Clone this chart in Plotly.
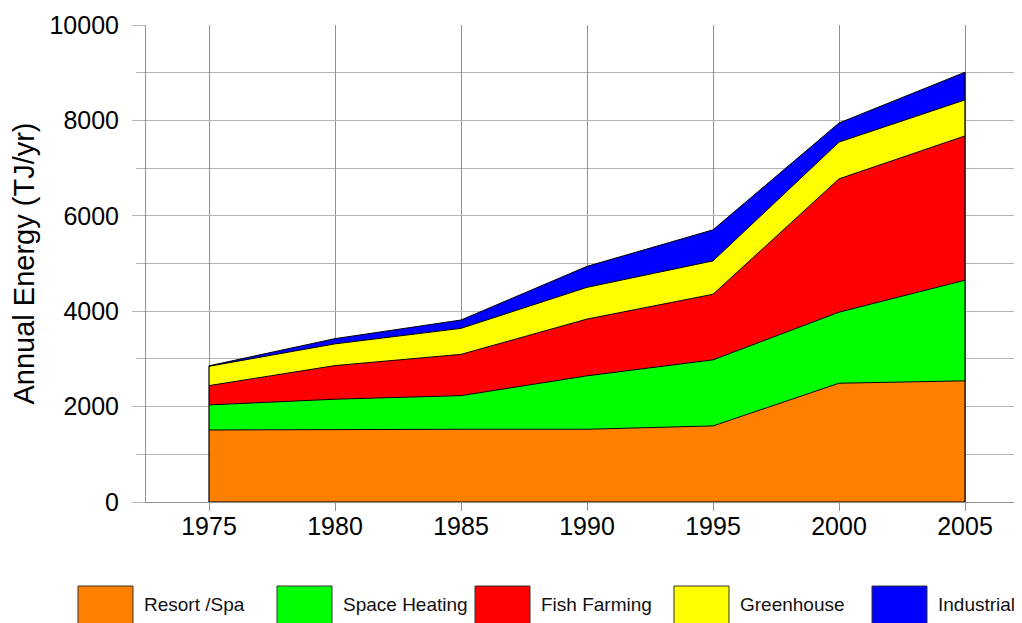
import plotly.graph_objects as go

years = [1975, 1980, 1985, 1990, 1995, 2000, 2005]
resort_spa = [1510, 1525, 1525, 1525, 1595, 2490, 2540]
space_heating = [525, 630, 705, 1120, 1385, 1490, 2110]
fish_farming = [405, 705, 865, 1190, 1375, 2795, 3025]
greenhouse = [405, 455, 545, 665, 700, 770, 755]
industrial = [10, 110, 175, 440, 650, 400, 580]

series_names = ["Resort /Spa", "Space Heating", "Fish Farming", "Greenhouse", "Industrial"]
series_values = [resort_spa, space_heating, fish_farming, greenhouse, industrial]
colors = ["#FF8000", "#00FF00", "#FF0000", "#FFFF00", "#0000FF"]

FONT = "Arial, 'Liberation Sans', sans-serif"

fig = go.Figure()
for name, vals, col in zip(series_names, series_values, colors):
    fig.add_trace(go.Scatter(
        x=years, y=vals, name=name, stackgroup="one", mode="lines",
        line=dict(color="black", width=1), fillcolor=col, showlegend=False,
        hoverinfo="x+y+name"))

totals = [sum(v) for v in zip(*series_values)]
# outline of the stacked block: left edge, bottom, right edge
fig.add_trace(go.Scatter(
    x=[years[0], years[0], years[-1], years[-1]],
    y=[totals[0], 0, 0, totals[-1]],
    mode="lines", line=dict(color="black", width=1.2),
    showlegend=False, hoverinfo="skip"))

# page body has an 8px margin; the figure is offset by it
OFF = 8
W, H = 1022 - OFF, 623 - OFF
L, R, T, B = 146 - OFF, 0, 25 - OFF, 121
pw = W - L - R
ph = H - T - B

def px_x(px):
    return (px - OFF - L) / pw

def px_y(py):
    return (H - B - (py - OFF)) / ph

shapes = []
annotations = []
box_left = [78, 277, 475, 674, 872]
for i, (name, col) in enumerate(zip(series_names, colors)):
    x0 = box_left[i]
    shapes.append(dict(type="rect", xref="paper", yref="paper",
                       x0=px_x(x0), x1=px_x(x0 + 55), y0=px_y(586), y1=px_y(640),
                       fillcolor=col, line=dict(color="#333333", width=1)))
    annotations.append(dict(xref="paper", yref="paper", x=px_x(x0 + 64), y=px_y(605),
                            text=name, showarrow=False, xanchor="left", yanchor="middle",
                            font=dict(family=FONT, size=19, color="#111111")))

fig.update_layout(
    width=W, height=H,
    margin=dict(l=L, r=R, t=T, b=B),
    paper_bgcolor="white", plot_bgcolor="white",
    font=dict(family=FONT, color="black"),
    shapes=shapes, annotations=annotations,
    xaxis=dict(
        range=[1972.5, 1972.5 + (1022 - 146) / 25.2],
        tickmode="linear", tick0=1975, dtick=5,
        showgrid=True, gridcolor="#909090", gridwidth=1,
        showline=True, linecolor="#909090", linewidth=1,
        ticks="outside", ticklen=8, tickcolor="#909090",
        ticklabelstandoff=-6,
        tickfont=dict(family=FONT, size=25, color="black"),
        zeroline=False,
    ),
    yaxis=dict(
        range=[0, 10000],
        tickmode="linear", tick0=0, dtick=2000, tickformat="d",
        showgrid=True, gridcolor="#b4b4b4", gridwidth=1,
        showline=True, linecolor="#909090", linewidth=1,
        ticks="outside", ticklen=13, tickcolor="#b4b4b4",
        ticklabelstandoff=8,
        tickfont=dict(family=FONT, size=25, color="black"),
        minor=dict(dtick=1000, showgrid=True, gridcolor="#b4b4b4",
                   ticks="outside", ticklen=9, tickcolor="#b4b4b4"),
        title=dict(text="Annual Energy (TJ/yr)", standoff=14,
                   font=dict(family=FONT, size=29, color="black")),
        zeroline=False,
    ),
)

fig.write_html("out.html")
